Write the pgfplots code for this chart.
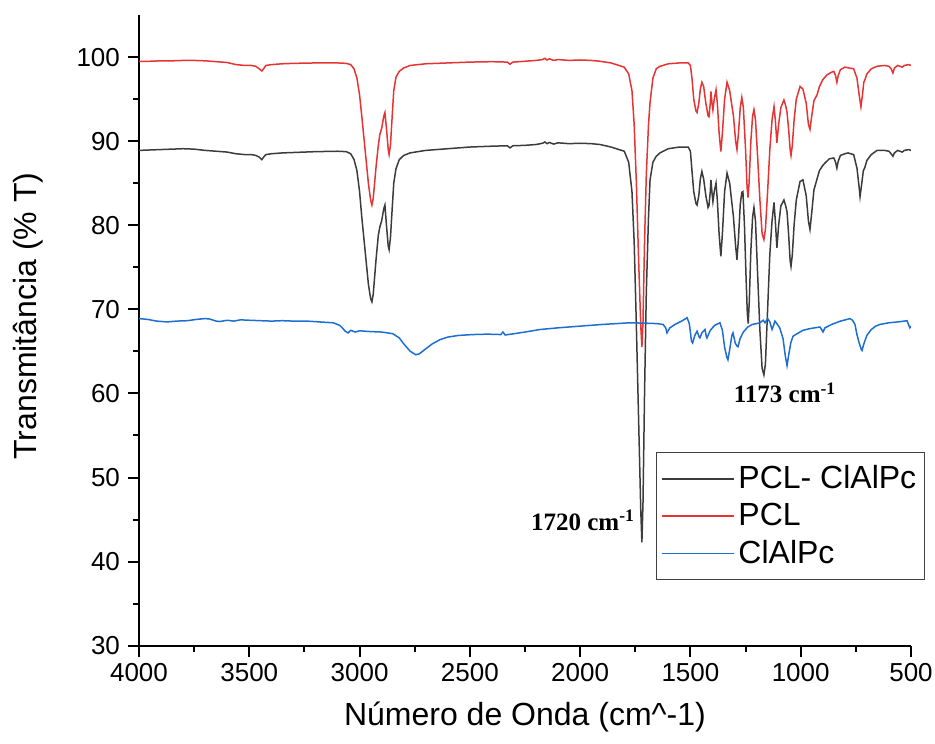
\documentclass[border=0pt]{standalone}
\usepackage{fontspec}
\setmainfont{Liberation Sans}
\newfontfamily\serifb{Liberation Serif}
\usepackage{pgfplots}
\pgfplotsset{compat=1.18}
\definecolor{cblack}{RGB}{60,60,60}
\definecolor{cred}{RGB}{228,52,52}
\definecolor{cblue}{RGB}{30,110,210}
\begin{document}
\begin{tikzpicture}
\useasboundingbox (-69.5pt,-48.65pt) rectangle (398pt,322.85pt);
\begin{axis}[
  scale only axis, width=386pt, height=315.35pt,
  xmin=500, xmax=4000, ymin=30, ymax=105,
  x dir=reverse,
  axis x line*=bottom, axis y line*=left,
  axis line style={black, line width=1pt, -},
  xtick={500,1000,...,4000}, ytick={30,40,...,100},
  minor x tick num=1, minor y tick num=1,
  tick align=outside,
  major tick length=5.5pt, minor tick length=3pt,
  every tick/.style={black, line width=1pt},
  /pgf/number format/1000 sep={},
  /pgf/number format/assume math mode=true,
  tick label style={font=\fontsize{13}{15}\selectfont},
  yticklabel style={xshift=-0.5pt},
  xlabel={Número de Onda (cm\textasciicircum-1)},
  ylabel={Transmitância (\% T)},
  label style={font=\fontsize{16}{19}\selectfont},
  xlabel style={at={(axis description cs:0.5,-0.113)}, anchor=center},
  ylabel style={at={(axis description cs:-0.1438,0.5228)}, anchor=center, rotate=0},
  legend style={at={(axis description cs:1.018,0.307)}, anchor=north east,
    draw=black!75, line width=0.6pt, font=\fontsize{16}{18}\selectfont,
    inner xsep=2pt, inner ysep=4.5pt, row sep=1.8pt},
  legend cell align=left,
  legend image code/.code={\draw[#1, line width=0.9pt] (0pt,0pt) -- (36pt,0pt);},
  clip=true,
]
\addplot[cblack, line width=0.75pt] coordinates {
(4000,88.9) (3950,88.95) (3900,89.0) (3850,89.05) (3800,89.1) (3750,89.05) (3700,88.9) (3650,88.8) (3600,88.7) (3560,88.5) (3520,88.4) (3490,88.4) (3470,88.3) (3455,88.1) (3443,87.8) (3435,88.1) (3425,88.4) (3400,88.5) (3350,88.6) (3300,88.65) (3200,88.75) (3100,88.8) (3060,88.75) (3040,88.5) (3025,87.8) (3012,86.5) (3000,84.0) (2990,81.0) (2975,77.0) (2960,73.0) (2950,71.3) (2944,70.9) (2938,71.8) (2925,76.0) (2915,78.8) (2908,79.8) (2900,80.5) (2890,82.0) (2885,82.4) (2878,80.0) (2870,77.5) (2866,77.1) (2860,78.5) (2852,82.0) (2845,85.0) (2835,86.7) (2820,87.8) (2800,88.3) (2771,88.6) (2700,88.9) (2600,89.1) (2500,89.3) (2400,89.4) (2330,89.45) (2318,89.2) (2305,89.45) (2250,89.5) (2200,89.6) (2170,89.75) (2160,89.9) (2150,89.7) (2140,89.85) (2120,89.65) (2100,89.8) (2050,89.7) (2000,89.75) (1950,89.7) (1910,89.6) (1860,89.3) (1800,88.8) (1780,87.5) (1765,84.0) (1755,78.0) (1745,68.0) (1735,57.0) (1725,46.0) (1720,42.3) (1715,47.0) (1708,60.0) (1700,72.0) (1690,81.0) (1683,85.4) (1670,87.5) (1655,88.2) (1638,88.6) (1600,89.1) (1550,89.3) (1510,89.3) (1500,88.8) (1493,86.5) (1485,84.0) (1475,82.6) (1470,82.4) (1462,83.5) (1455,85.5) (1448,86.4) (1440,85.5) (1430,83.5) (1420,82.1) (1416,82.3) (1410,84.0) (1407,85.4) (1402,83.8) (1398,82.8) (1392,84.0) (1384,85.0) (1378,83.0) (1370,79.0) (1362,76.3) (1355,79.0) (1345,84.0) (1334,86.2) (1322,85.0) (1305,81.0) (1295,77.5) (1289,75.9) (1282,78.5) (1274,82.5) (1267,83.9) (1262,84.0) (1255,80.0) (1248,74.0) (1242,69.5) (1238,68.3) (1233,71.0) (1226,77.0) (1218,81.0) (1212,82.1) (1205,80.5) (1195,74.0) (1185,67.5) (1175,63.0) (1167,62.2) (1160,63.5) (1150,70.0) (1140,76.5) (1130,80.5) (1121,82.7) (1115,80.5) (1108,77.3) (1100,80.0) (1090,82.3) (1076,83.0) (1068,82.3) (1062,81.6) (1055,79.0) (1048,75.8) (1044,75.1) (1038,76.5) (1030,80.0) (1020,83.0) (1003,85.2) (990,85.4) (975,83.5) (965,80.5) (958,79.5) (950,81.5) (940,84.2) (926,85.5) (915,86.5) (900,87.1) (890,87.4) (870,87.9) (850,88.0) (842,87.5) (836,86.8) (830,87.6) (820,88.3) (800,88.5) (786,88.6) (760,88.4) (745,86.8) (735,84.5) (731,83.4) (724,84.8) (716,86.5) (710,86.8) (700,87.7) (680,88.4) (654,88.9) (620,88.9) (600,88.8) (590,88.5) (582,88.2) (575,88.6) (560,88.9) (540,88.7) (530,88.9) (510,89.0) (500,88.9)
};
\addlegendentry{PCL- ClAlPc}
\addplot[cred, line width=0.75pt] coordinates {
(4000,99.5) (3950,99.5) (3900,99.55) (3850,99.55) (3800,99.6) (3750,99.6) (3700,99.55) (3650,99.45) (3600,99.35) (3560,99.1) (3520,99.0) (3490,99.0) (3470,98.9) (3455,98.6) (3443,98.35) (3435,98.6) (3425,99.0) (3400,99.1) (3350,99.2) (3300,99.25) (3200,99.3) (3100,99.3) (3060,99.25) (3040,99.1) (3025,98.6) (3012,97.5) (3000,95.5) (2990,93.0) (2975,89.0) (2960,85.0) (2950,83.0) (2944,82.4) (2938,83.2) (2925,87.0) (2915,89.5) (2908,90.8) (2900,91.5) (2890,93.0) (2885,93.4) (2878,91.5) (2870,89.0) (2866,88.4) (2860,89.5) (2852,93.0) (2845,96.0) (2835,97.6) (2820,98.3) (2800,98.7) (2771,99.0) (2700,99.2) (2600,99.3) (2500,99.4) (2400,99.45) (2330,99.4) (2318,99.15) (2305,99.4) (2250,99.5) (2200,99.6) (2170,99.7) (2160,99.85) (2150,99.65) (2140,99.8) (2120,99.6) (2100,99.7) (2050,99.6) (2000,99.65) (1950,99.6) (1910,99.5) (1860,99.3) (1800,98.8) (1780,98.0) (1765,96.0) (1755,92.0) (1745,85.0) (1735,76.0) (1725,68.0) (1720,65.5) (1715,68.5) (1708,78.0) (1700,86.0) (1690,92.0) (1683,94.6) (1670,97.5) (1655,98.6) (1638,98.9) (1600,99.2) (1550,99.3) (1510,99.3) (1500,99.0) (1493,97.5) (1485,95.0) (1475,93.6) (1470,93.4) (1462,94.5) (1455,96.2) (1448,97.0) (1440,96.5) (1430,94.5) (1420,93.0) (1416,92.9) (1410,94.5) (1407,95.9) (1402,94.5) (1398,93.7) (1392,95.0) (1384,96.1) (1378,94.5) (1370,91.0) (1362,88.75) (1355,91.0) (1345,95.0) (1334,97.0) (1322,96.0) (1305,93.0) (1295,90.0) (1289,89.0) (1282,91.0) (1274,94.0) (1267,95.2) (1260,94.0) (1250,89.0) (1243,84.5) (1239,83.3) (1234,85.0) (1226,90.0) (1218,93.0) (1212,93.75) (1205,92.5) (1195,88.0) (1185,83.0) (1175,79.0) (1167,78.3) (1160,79.5) (1150,84.0) (1140,89.0) (1130,92.5) (1121,94.1) (1115,92.5) (1108,89.8) (1100,92.0) (1090,94.0) (1076,94.9) (1068,94.2) (1062,93.4) (1055,91.5) (1048,89.0) (1044,88.3) (1038,89.5) (1030,92.5) (1020,95.0) (1003,96.5) (990,96.2) (975,94.5) (965,92.0) (958,91.4) (950,93.0) (940,94.8) (926,95.5) (915,96.5) (900,97.3) (880,97.9) (860,98.2) (850,98.3) (842,97.8) (836,97.0) (830,97.8) (820,98.5) (800,98.8) (780,98.7) (760,98.6) (745,97.5) (735,95.5) (727,94.1) (720,95.5) (714,97.0) (710,97.2) (700,98.0) (680,98.6) (654,98.9) (620,99.0) (600,98.9) (590,98.6) (582,98.1) (575,98.7) (560,99.0) (540,98.8) (530,99.0) (510,99.1) (500,99.0)
};
\addlegendentry{PCL}
\addplot[cblue, line width=0.75pt] coordinates {
(4000,68.9) (3960,68.8) (3920,68.6) (3873,68.5) (3830,68.6) (3780,68.65) (3740,68.8) (3700,68.9) (3680,68.85) (3650,68.6) (3633,68.55) (3600,68.7) (3570,68.6) (3540,68.75) (3500,68.7) (3450,68.65) (3400,68.6) (3350,68.65) (3300,68.6) (3238,68.6) (3180,68.5) (3120,68.4) (3090,68.1) (3075,67.7) (3065,67.4) (3052,67.2) (3040,67.5) (3020,67.3) (3000,67.45) (2950,67.35) (2900,67.3) (2849,67.1) (2820,66.6) (2800,65.9) (2770,65.0) (2745,64.6) (2730,64.7) (2700,65.3) (2670,65.9) (2635,66.4) (2600,66.7) (2550,66.9) (2486,67.0) (2420,67.05) (2360,67.0) (2350,67.3) (2340,66.95) (2300,67.1) (2250,67.3) (2182,67.6) (2100,67.8) (2001,68.0) (1900,68.2) (1774,68.4) (1700,68.35) (1650,68.3) (1624,68.2) (1612,67.8) (1606,67.2) (1600,67.5) (1593,67.8) (1570,68.2) (1540,68.6) (1515,69.0) (1505,68.3) (1495,66.2) (1490,66.0) (1480,66.9) (1470,67.4) (1460,66.7) (1457,66.6) (1448,67.2) (1434,67.6) (1428,66.8) (1425,66.6) (1410,67.5) (1390,68.1) (1366,68.4) (1355,67.5) (1345,65.5) (1335,64.3) (1330,64.0) (1322,65.2) (1312,66.9) (1307,67.2) (1297,66.0) (1288,65.6) (1284,65.55) (1275,66.5) (1260,67.3) (1240,67.9) (1220,68.2) (1200,68.3) (1185,68.4) (1170,68.7) (1162,68.4) (1150,68.9) (1140,68.5) (1130,67.6) (1124,68.0) (1117,68.6) (1108,68.3) (1095,67.8) (1080,66.5) (1070,64.5) (1062,63.3) (1055,64.5) (1045,66.0) (1035,66.8) (1010,67.2) (990,67.5) (960,67.7) (913,67.9) (905,67.6) (899,67.3) (890,67.8) (860,68.2) (820,68.6) (790,68.8) (777,68.9) (765,68.7) (754,68.2) (745,67.0) (735,66.0) (725,65.2) (722,65.1) (715,65.8) (700,66.9) (680,67.6) (660,68.0) (641,68.2) (600,68.4) (560,68.5) (530,68.6) (518,68.65) (510,68.1) (505,67.8) (500,68.0)
};
\addlegendentry{ClAlPc}
\node[font=\serifb\bfseries\fontsize{12.5}{14}\selectfont] at (axis cs:1987,44.94) {1720 cm\textsuperscript{-1}};
\node[font=\serifb\bfseries\fontsize{12.5}{14}\selectfont] at (axis cs:1071,60.06) {1173 cm\textsuperscript{-1}};
\end{axis}
\end{tikzpicture}
\end{document}
